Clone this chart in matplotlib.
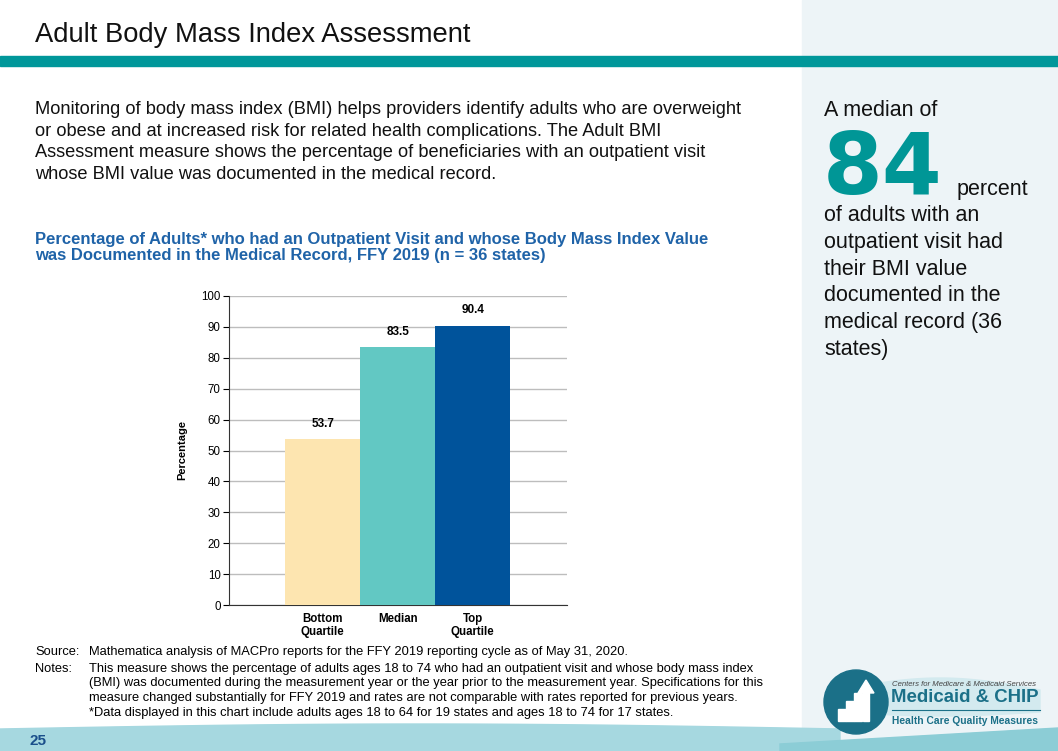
import numpy as np
import matplotlib.pyplot as plt
from matplotlib.patches import Rectangle, Circle, Polygon

plt.rcParams['font.family'] = ['Liberation Sans', 'DejaVu Sans']

# chart data
categories = ["Bottom\nQuartile", "Median", "Top\nQuartile"]
values = [53.7, 83.5, 90.4]
bar_colors = ["#FDE5B0", "#62C8C3", "#00539B"]
yticks = [0, 10, 20, 30, 40, 50, 60, 70, 80, 90, 100]

W, H = 1058, 751
fig = plt.figure(figsize=(W / 100, H / 100), dpi=100)

# background / decoration layer in pixel coords
bg = fig.add_axes([0, 0, 1, 1])
bg.set_xlim(0, W)
bg.set_ylim(H, 0)
bg.axis("off")
bg.add_patch(Rectangle((802, 0), W - 802, H, color="#EDF4F7", zorder=0))
bg.add_patch(Rectangle((0, 56), W, 10, color="#00979A", zorder=1))

# bottom wave
xs = np.linspace(0, 840, 60)
top = 729 - 5 * np.sin(xs / 840 * np.pi)
bg.add_patch(Polygon(np.r_[np.c_[xs, top], [[840, H], [0, H]]], closed=True,
                     color="#A6D8E0", zorder=1))
xs2 = np.linspace(780, W, 40)
top2 = 744 - 16 * (xs2 - 780) / (W - 780)
bg.add_patch(Polygon(np.r_[np.c_[xs2, top2], [[W, H], [780, H]]], closed=True,
                     color="#8CCDD6", zorder=1))
# soft swoosh behind logo
xs3 = np.linspace(840, 1040, 40)
bg.add_patch(Polygon(np.r_[np.c_[xs3, 690 - 12 * np.sin((xs3 - 840) / 200 * np.pi)],
                           np.c_[xs3[::-1], 712 + 4 * np.sin((xs3[::-1] - 840) / 200 * np.pi)]],
                     closed=True, color="#D3EAEF", zorder=1))
bg.text(30, 741, "25", fontsize=11, fontweight="bold", color="#1A4F8B",
        va="center", ha="left")

# title and body
bg.text(35, 35, "Adult Body Mass Index Assessment", fontsize=19.7, va="center",
        ha="left", color="#111111")
body = ("Monitoring of body mass index (BMI) helps providers identify adults who are overweight\n"
        "or obese and at increased risk for related health complications. The Adult BMI\n"
        "Assessment measure shows the percentage of beneficiaries with an outpatient visit\n"
        "whose BMI value was documented in the medical record.")
bg.text(35, 101, body, fontsize=13.15, va="top", ha="left", linespacing=1.36,
        color="#111111")
sub = ("Percentage of Adults* who had an Outpatient Visit and whose Body Mass Index Value\n"
       "was Documented in the Medical Record, FFY 2019 (n = 36 states)")
bg.text(35, 232, sub, fontsize=12, fontweight="bold", va="top", ha="left",
        linespacing=1.12, color="#1F63A8")

# right panel
bg.text(824, 110, "A median of", fontsize=15.5, va="center", ha="left", color="#111111")
bg.text(823, 194, "84", fontsize=62, fontweight="bold", family="DejaVu Sans",
        va="baseline", ha="left", color="#009696")
bg.text(957, 190, "percent", fontsize=15.5, va="center", ha="left", color="#111111")
panel = ("of adults with an\noutpatient visit had\ntheir BMI value\n"
         "documented in the\nmedical record (36\nstates)")
bg.text(824, 205, panel, fontsize=15.5, va="top", ha="left", linespacing=1.36,
        color="#111111")

# footer notes
fs = 9.3
bg.text(35, 652, "Source:", fontsize=fs, va="center", ha="left")
bg.text(89, 652, "Mathematica analysis of MACPro reports for the FFY 2019 reporting cycle as of May 31, 2020.",
        fontsize=fs, va="center", ha="left")
bg.text(35, 669, "Notes:", fontsize=fs, va="center", ha="left")
notes = ("This measure shows the percentage of adults ages 18 to 74 who had an outpatient visit and whose body mass index\n"
         "(BMI) was documented during the measurement year or the year prior to the measurement year. Specifications for this\n"
         "measure changed substantially for FFY 2019 and rates are not comparable with rates reported for previous years.")
bg.text(89, 663, notes, fontsize=fs, va="top", ha="left", linespacing=1.25)
bg.text(89, 713, "*Data displayed in this chart include adults ages 18 to 64 for 19 states and ages 18 to 74 for 17 states.",
        fontsize=fs, va="center", ha="left")

# logo
teal = "#1B7088"
cx, cy = 856, 702
bg.add_patch(Circle((cx, cy), 32, color=teal, zorder=3))
steps = [(838, 709, 8, 12), (846, 701, 8, 20), (854, 693, 8, 28)]
for x0, y0, w, h in steps:
    bg.add_patch(Rectangle((x0, y0), w, h, color="white", zorder=4))
bg.add_patch(Rectangle((863, 692), 6, 29, color="white", zorder=4))
bg.add_patch(Polygon([[858, 693], [866, 680], [874, 693]], closed=True,
                     color="white", zorder=4))
bg.text(892, 684, "Centers for Medicare & Medicaid Services", fontsize=5.6,
        style="italic", color="#444444", va="center", ha="left", zorder=5)
bg.text(891, 697, "Medicaid & CHIP", fontsize=13.4, fontweight="bold",
        color=teal, va="center", ha="left", zorder=5)
bg.plot([892, 1040], [710, 710], color=teal, lw=0.8, zorder=5)
bg.text(892, 721, "Health Care Quality Measures", fontsize=7.4, fontweight="bold",
        color=teal, va="center", ha="left", zorder=5)

# the bar chart
ax = fig.add_axes([229 / W, 1 - 605 / H, (567 - 229) / W, (605 - 296) / H])
ax.set_facecolor("none")
x = np.arange(len(values))
bars = ax.bar(x, values, width=1.0, color=bar_colors, zorder=3)
for b, v in zip(bars, values):
    ax.text(b.get_x() + b.get_width() / 2, v + 3, f"{v:.1f}", ha="center",
            va="bottom", fontsize=8.5, fontweight="bold")
ax.set_xlim(-1.25, 3.26)
ax.set_ylim(0, 100)
ax.set_yticks(yticks)
ax.set_xticks(x)
ax.set_xticklabels(categories, fontsize=8.3, fontweight="bold", linespacing=1.1)
ax.tick_params(axis="x", length=0, pad=6)
ax.tick_params(axis="y", length=4, width=0.8, labelsize=8.3, pad=2)
ax.yaxis.grid(True, color="#BDBDBD", lw=1, zorder=0)
for s in ["top", "right"]:
    ax.spines[s].set_visible(False)
ax.spines["left"].set_color("#333333")
ax.spines["bottom"].set_color("#333333")
ax.set_ylabel("Percentage", fontsize=8, fontweight="bold", labelpad=10)

fig.savefig("out.png", dpi=100)
